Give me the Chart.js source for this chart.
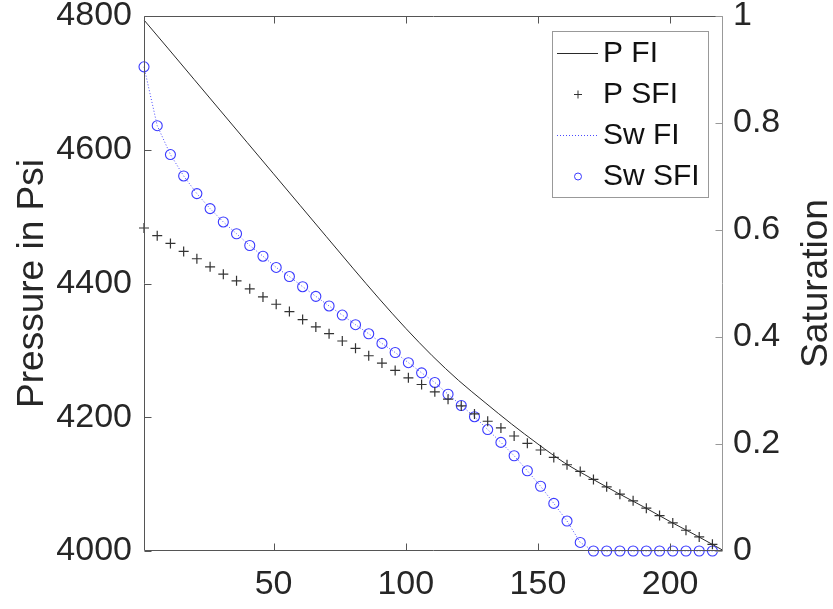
<!DOCTYPE html>
<html>
<head>
<meta charset="utf-8">
<script src="https://cdn.jsdelivr.net/npm/chart.js@4.4.1/dist/chart.umd.min.js"></script>
<style>
  html, body { margin: 0; padding: 0; background: #fff; }
  #wrap { width: 833px; height: 609px; }
  canvas { display: block; }
</style>
</head>
<body>
<div id="wrap"><canvas id="chart" width="833" height="609"></canvas></div>
<script>
// values
const xFI = [1, 10, 20, 30, 40, 50, 60, 70, 80, 90, 100, 110, 120, 130, 140, 150, 160, 170, 180, 190, 200, 210, 220];
const pFI = [4794, 4752, 4705, 4658, 4611, 4564, 4517, 4470, 4423, 4377, 4333, 4292, 4255, 4222, 4190, 4160, 4132, 4109, 4087, 4066, 4044, 4023, 4001];

const xSFI = [1, 6, 11, 16, 21, 26, 31, 36, 41, 46, 51, 56, 61, 66, 71, 76, 81, 86, 91, 96, 101, 106,
  111, 116, 121, 126, 131, 136, 141, 146, 151, 156, 161, 166, 171, 176, 181, 186, 191, 196, 201, 206, 211, 216];
const pSFI = [4483, 4471.5, 4460, 4448, 4437, 4425, 4414, 4404, 4392, 4380, 4369, 4358, 4346, 4335, 4325, 4314,
  4303, 4292, 4281, 4270, 4259, 4249, 4238, 4227, 4217, 4205, 4194, 4184, 4172, 4161, 4151, 4140, 4129, 4119,
  4107, 4096, 4085, 4075, 4064, 4053, 4042, 4031, 4021, 4010];
const swSFI = [0.905, 0.795, 0.741, 0.701, 0.668, 0.640, 0.615, 0.593, 0.571, 0.551, 0.530, 0.513, 0.494, 0.476,
  0.458, 0.441, 0.423, 0.406, 0.388, 0.371, 0.352, 0.333, 0.315, 0.293, 0.272, 0.251, 0.227, 0.203, 0.178, 0.150,
  0.121, 0.089, 0.056, 0.016, 0, 0, 0, 0, 0, 0, 0, 0, 0, 0];

const xSwFI = [1, 6, 11, 16, 21, 26, 31, 36, 41, 46, 51, 56, 61, 66, 71, 76, 81, 86, 91, 96, 101, 106,
  111, 116, 121, 126, 131, 136, 141, 146, 151, 156, 161, 166, 171, 176, 181, 186, 191, 196, 201, 206, 211, 216, 220];
const swFI = [0.905, 0.795, 0.741, 0.701, 0.668, 0.640, 0.615, 0.593, 0.571, 0.551, 0.530, 0.513, 0.494, 0.476,
  0.458, 0.441, 0.423, 0.406, 0.388, 0.371, 0.352, 0.333, 0.315, 0.293, 0.272, 0.251, 0.227, 0.203, 0.178, 0.150,
  0.121, 0.089, 0.056, 0.016, 0, 0, 0, 0, 0, 0, 0, 0, 0, 0, 0];

const xTicks = [50, 100, 150, 200];
const legendLabels = ["P FI", "P SFI", "Sw FI", "Sw SFI"];

const FONT = "'Liberation Sans', Arial, sans-serif";
const TXT = "#262626";

function pts(xs, ys) {
  return xs.map((x, i) => ({ x: x, y: ys[i] }));
}

function noPad(s) {
  s.paddingTop = 0; s.paddingBottom = 0;
  s.paddingLeft = 0; s.paddingRight = 0;
}

const chrome = {
  id: 'chrome',
  afterDatasetsDraw(chart) {
    const ctx = chart.ctx;
    const a = chart.chartArea;
    const sx = chart.scales.x, sy = chart.scales.y, sy1 = chart.scales.y1;
    const L = Math.round(a.left) + 0.5, R = Math.round(a.right) - 0.5;
    const T = Math.round(a.top) + 0.5, B = Math.round(a.bottom) - 0.5;
    const tl = 7;
    ctx.save();
    ctx.lineWidth = 1;

    // left, bottom, top
    ctx.strokeStyle = "#555";
    ctx.beginPath();
    ctx.moveTo(R, T); ctx.lineTo(L, T); ctx.lineTo(L, B); ctx.lineTo(R, B);
    ctx.stroke();
    // x ticks bottom and top, pointing in
    ctx.beginPath();
    xTicks.forEach(v => {
      const px = Math.round(sx.getPixelForValue(v)) + 0.5;
      ctx.moveTo(px, B); ctx.lineTo(px, B - tl);
      ctx.moveTo(px, T); ctx.lineTo(px, T + tl);
    });
    sy.ticks.forEach(t => {
      const py = Math.round(sy.getPixelForValue(t.value)) + 0.5;
      ctx.moveTo(L, py); ctx.lineTo(L + tl, py);
    });
    ctx.stroke();

    // right axis
    ctx.strokeStyle = "#999";
    ctx.beginPath();
    ctx.moveTo(R, T); ctx.lineTo(R, B);
    sy1.ticks.forEach(t => {
      const py = Math.round(sy1.getPixelForValue(t.value)) + 0.5;
      ctx.moveTo(R, py); ctx.lineTo(R - tl, py);
    });
    ctx.stroke();
    ctx.restore();
  },
  afterDraw(chart) {
    const ctx = chart.ctx;
    const a = chart.chartArea;
    const midY = (a.top + a.bottom) / 2;
    ctx.save();
    ctx.fillStyle = TXT;
    ctx.font = "37px " + FONT;
    ctx.textAlign = "center";
    ctx.textBaseline = "alphabetic";

    ctx.save();
    ctx.translate(43, midY);
    ctx.rotate(-Math.PI / 2);
    ctx.fillText("Pressure in Psi", 0, 0);
    ctx.restore();

    ctx.save();
    ctx.translate(827, midY);
    ctx.rotate(-Math.PI / 2);
    ctx.fillText("Saturation", 0, 0);
    ctx.restore();

    // legend box
    const bx = 552.5, by = 31.5, bw = 156, bh = 166;
    ctx.fillStyle = "#fff";
    ctx.fillRect(bx, by, bw, bh);
    ctx.strokeStyle = "#999";
    ctx.lineWidth = 1;
    ctx.strokeRect(bx, by, bw, bh);

    const rowY = [53, 94, 135, 176];
    const ds = chart.data.datasets;
    ctx.font = "30px " + FONT;
    ctx.textAlign = "left";
    ctx.textBaseline = "middle";
    legendLabels.forEach((lab, i) => {
      const y = rowY[i] + 0.5;
      const d = ds[i];
      ctx.save();
      ctx.strokeStyle = d.borderColor;
      ctx.lineWidth = 1;
      if (i === 0 || i === 2) {
        ctx.setLineDash(d.borderDash || []);
        ctx.beginPath();
        ctx.moveTo(557, y); ctx.lineTo(598, y);
        ctx.stroke();
      } else if (i === 1) {
        ctx.beginPath();
        ctx.moveTo(574, y); ctx.lineTo(582, y);
        ctx.moveTo(578, y - 4); ctx.lineTo(578, y + 4);
        ctx.stroke();
      } else {
        ctx.beginPath();
        ctx.arc(578, y, 3.5, 0, Math.PI * 2);
        ctx.stroke();
      }
      ctx.restore();
      ctx.fillStyle = "#111";
      ctx.fillText(lab, 603, rowY[i] + 1);
    });
    ctx.restore();
  }
};

new Chart(document.getElementById("chart"), {
  type: 'line',
  data: {
    datasets: [
      {
        label: "P FI",
        data: pts(xFI, pFI),
        yAxisID: 'y',
        borderColor: "#2a2a2a",
        borderWidth: 1,
        pointRadius: 0,
        cubicInterpolationMode: 'monotone',
        clip: false
      },
      {
        label: "P SFI",
        data: pts(xSFI, pSFI),
        yAxisID: 'y',
        showLine: false,
        pointStyle: 'cross',
        pointRadius: 5,
        borderColor: "#333",
        backgroundColor: "#333",
        pointBorderWidth: 1.2,
        clip: false
      },
      {
        label: "Sw FI",
        data: pts(xSwFI, swFI),
        yAxisID: 'y1',
        borderColor: "#4a4aff",
        borderWidth: 1,
        borderDash: [1, 2],
        pointRadius: 0,
        tension: 0,
        clip: false
      },
      {
        label: "Sw SFI",
        data: pts(xSFI, swSFI),
        yAxisID: 'y1',
        showLine: false,
        pointStyle: 'circle',
        pointRadius: 5,
        borderColor: "#3a3aff",
        backgroundColor: "rgba(0,0,0,0)",
        pointBorderWidth: 1.1,
        clip: false
      }
    ]
  },
  options: {
    responsive: false,
    animation: false,
    devicePixelRatio: 1,
    layout: { padding: { top: 16, left: 0, right: 0, bottom: 0 } },
    plugins: {
      legend: { display: false },
      tooltip: { enabled: false }
    },
    scales: {
      x: {
        type: 'linear',
        position: 'bottom',
        min: 1,
        max: 220,
        afterBuildTicks: s => { s.ticks = xTicks.map(v => ({ value: v })); },
        afterFit: s => { s.height = 58; noPad(s); },
        grid: { display: false, drawTicks: false },
        border: { display: false },
        ticks: {
          padding: 13,
          maxRotation: 0,
          autoSkip: false,
          color: TXT,
          font: { family: FONT, size: 34 },
          callback: v => String(v)
        }
      },
      y: {
        type: 'linear',
        position: 'left',
        min: 4000,
        max: 4800,
        afterFit: s => { s.width = 144; noPad(s); },
        grid: { display: false, drawTicks: false },
        border: { display: false },
        ticks: {
          stepSize: 200,
          padding: 12,
          autoSkip: false,
          color: TXT,
          font: { family: FONT, size: 34 },
          callback: v => String(v)
        }
      },
      y1: {
        type: 'linear',
        position: 'right',
        min: 0,
        max: 1,
        afterFit: s => { s.width = 110; noPad(s); },
        grid: { display: false, drawTicks: false },
        border: { display: false },
        ticks: {
          stepSize: 0.2,
          padding: 10,
          autoSkip: false,
          color: TXT,
          font: { family: FONT, size: 34 },
          callback: v => String(+v.toFixed(1))
        }
      }
    }
  },
  plugins: [chrome]
});
</script>
</body>
</html>
